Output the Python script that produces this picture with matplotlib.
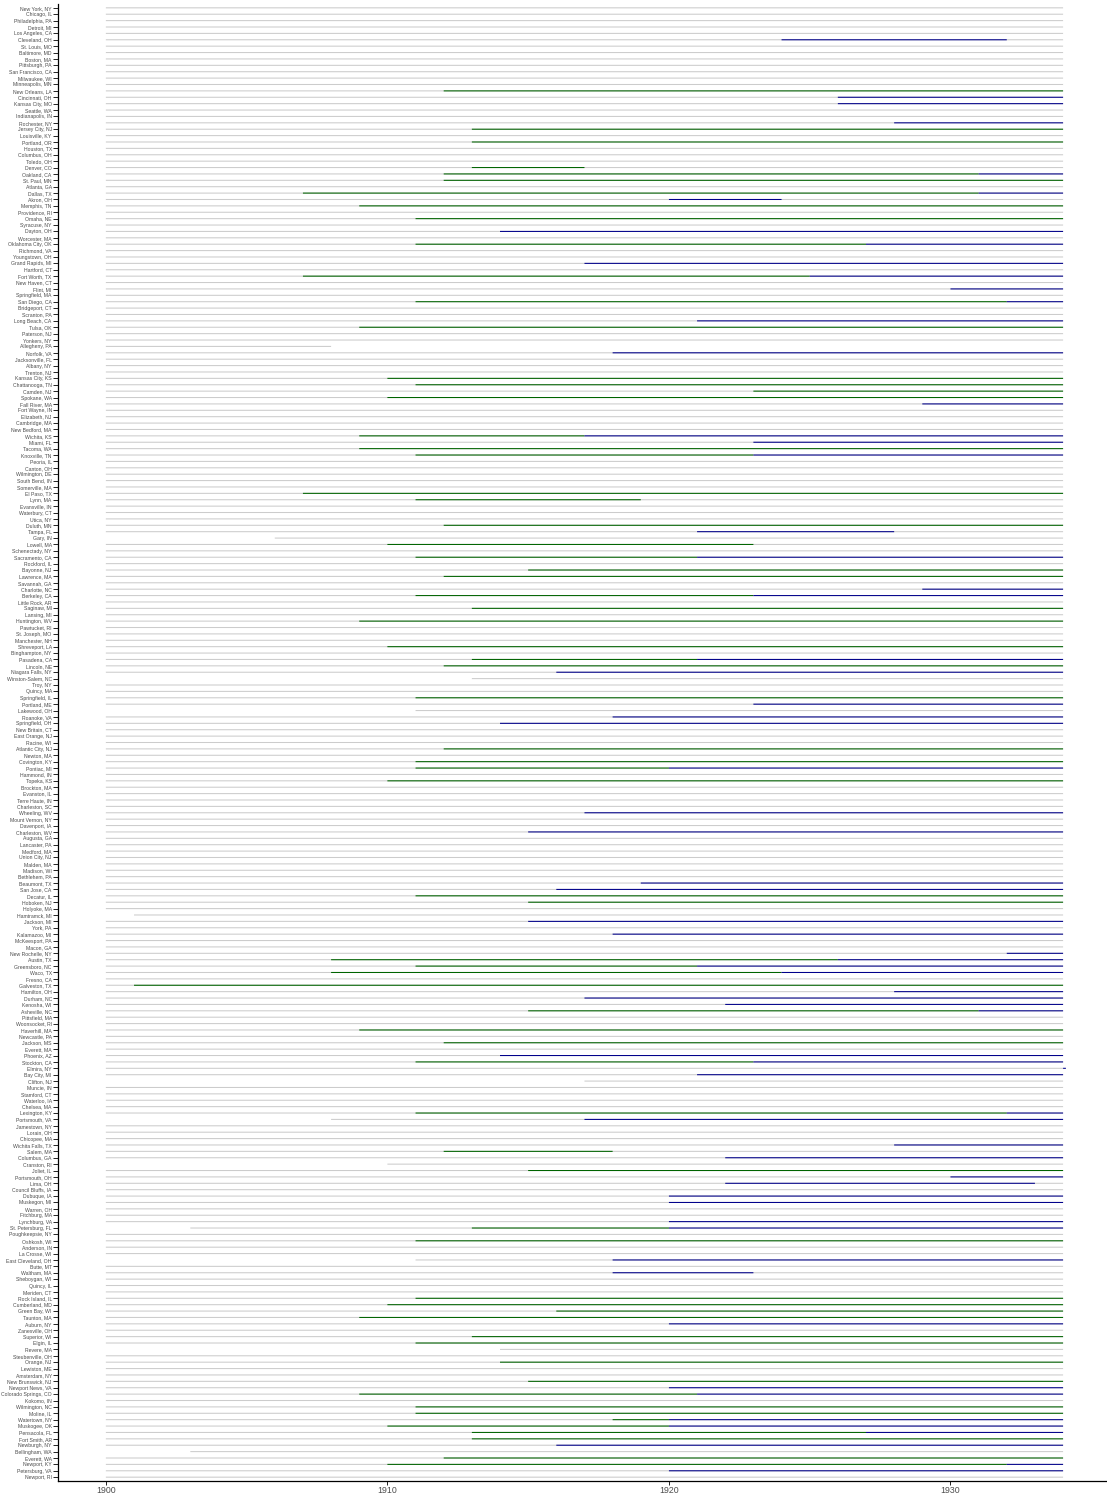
import matplotlib
matplotlib.use("Agg")
import matplotlib.pyplot as plt

plt.rcParams['font.family'] = ['Liberation Sans', 'DejaVu Sans']

# cities, top to bottom
cities = [
    "New York, NY", "Chicago, IL", "Philadelphia, PA", "Detroit, MI", "Los Angeles, CA",
    "Cleveland, OH", "St. Louis, MO", "Baltimore, MD", "Boston, MA", "Pittsburgh, PA",
    "San Francisco, CA", "Milwaukee, WI", "Minneapolis, MN", "New Orleans, LA", "Cincinnati, OH",
    "Kansas City, MO", "Seattle, WA", "Indianapolis, IN", "Rochester, NY", "Jersey City, NJ",
    "Louisville, KY", "Portland, OR", "Houston, TX", "Columbus, OH", "Toledo, OH",
    "Denver, CO", "Oakland, CA", "St. Paul, MN", "Atlanta, GA", "Dallas, TX",
    "Akron, OH", "Memphis, TN", "Providence, RI", "Omaha, NE", "Syracuse, NY",
    "Dayton, OH", "Worcester, MA", "Oklahoma City, OK", "Richmond, VA", "Youngstown, OH",
    "Grand Rapids, MI", "Hartford, CT", "Fort Worth, TX", "New Haven, CT", "Flint, MI",
    "Springfield, MA", "San Diego, CA", "Bridgeport, CT", "Scranton, PA", "Long Beach, CA",
    "Tulsa, OK", "Paterson, NJ", "Yonkers, NY", "Allegheny, PA", "Norfolk, VA",
    "Jacksonville, FL", "Albany, NY", "Trenton, NJ", "Kansas City, KS", "Chattanooga, TN",
    "Camden, NJ", "Spokane, WA", "Fall River, MA", "Fort Wayne, IN", "Elizabeth, NJ",
    "Cambridge, MA", "New Bedford, MA", "Wichita, KS", "Miami, FL", "Tacoma, WA",
    "Knoxville, TN", "Peoria, IL", "Canton, OH", "Wilmington, DE", "South Bend, IN",
    "Somerville, MA", "El Paso, TX", "Lynn, MA", "Evansville, IN", "Waterbury, CT",
    "Utica, NY", "Duluth, MN", "Tampa, FL", "Gary, IN", "Lowell, MA",
    "Schenectady, NY", "Sacramento, CA", "Rockford, IL", "Bayonne, NJ", "Lawrence, MA",
    "Savannah, GA", "Charlotte, NC", "Berkeley, CA", "Little Rock, AR", "Saginaw, MI",
    "Lansing, MI", "Huntington, WV", "Pawtucket, RI", "St. Joseph, MO", "Manchester, NH",
    "Shreveport, LA", "Binghampton, NY", "Pasadena, CA", "Lincoln, NE", "Niagara Falls, NY",
    "Winston-Salem, NC", "Troy, NY", "Quincy, MA", "Springfield, IL", "Portland, ME",
    "Lakewood, OH", "Roanoke, VA", "Springfield, OH", "New Britain, CT", "East Orange, NJ",
    "Racine, WI", "Atlantic City, NJ", "Newton, MA", "Covington, KY", "Pontiac, MI",
    "Hammond, IN", "Topeka, KS", "Brockton, MA", "Evanston, IL", "Terre Haute, IN",
    "Charleston, SC", "Wheeling, WV", "Mount Vernon, NY", "Davenport, IA", "Charleston, WV",
    "Augusta, GA", "Lancaster, PA", "Medford, MA", "Union City, NJ", "Malden, MA",
    "Madison, WI", "Bethlehem, PA", "Beaumont, TX", "San Jose, CA", "Decatur, IL",
    "Hoboken, NJ", "Holyoke, MA", "Hamtramck, MI", "Jackson, MI", "York, PA",
    "Kalamazoo, MI", "McKeesport, PA", "Macon, GA", "New Rochelle, NY", "Austin, TX",
    "Greensboro, NC", "Waco, TX", "Fresno, CA", "Galveston, TX", "Hamilton, OH",
    "Durham, NC", "Kenosha, WI", "Asheville, NC", "Pittsfield, MA", "Woonsocket, RI",
    "Haverhill, MA", "Newcastle, PA", "Jackson, MS", "Everett, MA", "Phoenix, AZ",
    "Stockton, CA", "Elmira, NY", "Bay City, MI", "Clifton, NJ", "Muncie, IN",
    "Stamford, CT", "Waterloo, IA", "Chelsea, MA", "Lexington, KY", "Portsmouth, VA",
    "Jamestown, NY", "Lorain, OH", "Chicopee, MA", "Wichita Falls, TX", "Salem, MA",
    "Columbus, GA", "Cranston, RI", "Joliet, IL", "Portsmouth, OH", "Lima, OH",
    "Council Bluffs, IA", "Dubuque, IA", "Muskegon, MI", "Warren, OH", "Fitchburg, MA",
    "Lynchburg, VA", "St. Petersburg, FL", "Poughkeepsie, NY", "Oshkosh, WI", "Anderson, IN",
    "La Crosse, WI", "East Cleveland, OH", "Butte, MT", "Waltham, MA", "Sheboygan, WI",
    "Quincy, IL", "Meriden, CT", "Rock Island, IL", "Cumberland, MD", "Green Bay, WI",
    "Taunton, MA", "Auburn, NY", "Zanesville, OH", "Superior, WI", "Elgin, IL",
    "Revere, MA", "Steubenville, OH", "Orange, NJ", "Lewiston, ME", "Amsterdam, NY",
    "New Brunswick, NJ", "Newport News, VA", "Colorado Springs, CO", "Kokomo, IN", "Wilmington, NC",
    "Moline, IL", "Watertown, NY", "Muskogee, OK", "Pensacola, FL", "Fort Smith, AR",
    "Newburgh, NY", "Bellingham, WA", "Everett, WA", "Newport, KY", "Petersburg, VA",
    "Newport, RI",
]

# period covered for each city (default 1900-1934)
first_year = 1900
last_year = 1934
span_exceptions = {
    "Allegheny, PA": (1900, 1908),
    "Gary, IN": (1906, 1934),
    "Winston-Salem, NC": (1913, 1934),
    "Lakewood, OH": (1911, 1934),
    "Hamtramck, MI": (1901, 1934),
    "Clifton, NJ": (1917, 1934),
    "Portsmouth, VA": (1908, 1934),
    "Cranston, RI": (1910, 1934),
    "St. Petersburg, FL": (1903, 1934),
    "East Cleveland, OH": (1911, 1934),
    "Revere, MA": (1914, 1934),
    "Bellingham, WA": (1903, 1934),
}

# (1-based city position, start, end)
green_segments = [
    (14, 1912, 1934), (20, 1913, 1934), (22, 1913, 1934), (26, 1913, 1917),
    (27, 1912, 1931), (28, 1912, 1934), (30, 1907, 1931), (32, 1909, 1934),
    (34, 1911, 1934), (38, 1911, 1927), (43, 1907, 1925), (47, 1911, 1932),
    (51, 1909, 1934), (59, 1910, 1934), (60, 1911, 1934), (61, 1923, 1934),
    (62, 1910, 1934), (68, 1909, 1917), (70, 1909, 1934), (71, 1911, 1923),
    (77, 1907, 1934), (78, 1911, 1919), (82, 1912, 1934), (85, 1910, 1923),
    (87, 1911, 1921), (89, 1915, 1934), (90, 1912, 1934), (93, 1911, 1923),
    (95, 1913, 1934), (97, 1909, 1934), (101, 1910, 1934), (103, 1913, 1921),
    (104, 1912, 1934), (109, 1911, 1934), (117, 1912, 1934), (119, 1911, 1934),
    (120, 1911, 1920), (122, 1910, 1934), (140, 1911, 1934), (141, 1915, 1934),
    (150, 1908, 1926), (151, 1911, 1921), (152, 1908, 1924), (154, 1901, 1934),
    (158, 1915, 1931), (161, 1909, 1934), (163, 1912, 1934), (166, 1911, 1923),
    (174, 1911, 1932), (180, 1912, 1918), (183, 1915, 1934), (192, 1913, 1920),
    (194, 1911, 1934), (203, 1911, 1934), (204, 1910, 1934), (205, 1916, 1934),
    (206, 1909, 1934), (209, 1913, 1934), (210, 1911, 1934), (213, 1914, 1934),
    (216, 1915, 1934), (218, 1909, 1921), (220, 1911, 1934), (221, 1911, 1934),
    (222, 1918, 1920), (223, 1910, 1920), (224, 1913, 1927), (225, 1913, 1934),
    (228, 1912, 1934), (229, 1910, 1932),
]

blue_segments = [
    (6, 1924, 1932), (15, 1926, 1934), (16, 1926, 1934), (19, 1928, 1934),
    (27, 1931, 1934), (30, 1931, 1934), (31, 1920, 1924), (36, 1914, 1934),
    (38, 1927, 1934), (41, 1917, 1934), (43, 1925, 1934), (45, 1930, 1934),
    (47, 1932, 1934), (50, 1921, 1934), (55, 1918, 1934), (63, 1929, 1934),
    (68, 1917, 1934), (69, 1923, 1934), (71, 1923, 1934), (83, 1921, 1928),
    (87, 1921, 1934), (92, 1929, 1934), (93, 1923, 1934), (103, 1921, 1934),
    (105, 1916, 1934), (110, 1923, 1934), (112, 1918, 1934), (113, 1914, 1934),
    (120, 1920, 1934), (127, 1917, 1934), (130, 1915, 1934), (138, 1919, 1934),
    (139, 1916, 1934), (144, 1915, 1934), (146, 1918, 1934), (149, 1932, 1934),
    (150, 1926, 1934), (151, 1921, 1934), (152, 1924, 1934), (155, 1928, 1934),
    (156, 1917, 1934), (157, 1922, 1934), (158, 1931, 1934), (165, 1914, 1934),
    (166, 1923, 1934), (167, 1934, 1934.1), (168, 1921, 1934), (174, 1932, 1934),
    (175, 1917, 1934), (179, 1928, 1934), (181, 1922, 1934), (184, 1930, 1934),
    (185, 1922, 1933), (187, 1920, 1934), (188, 1920, 1934), (191, 1920, 1934),
    (192, 1920, 1934), (197, 1918, 1934), (199, 1918, 1923), (207, 1920, 1934),
    (217, 1920, 1934), (218, 1921, 1934), (222, 1920, 1934), (223, 1920, 1934),
    (224, 1927, 1934), (226, 1916, 1934), (229, 1932, 1934), (230, 1920, 1934),
]

fig = plt.figure(figsize=(11.07, 14.95), dpi=100)
ax = fig.add_axes([58 / 1107, 14 / 1495, 1049 / 1107, 1477 / 1495])

rows = list(range(len(cities)))
starts = [span_exceptions.get(c, (first_year, last_year))[0] for c in cities]
ends = [span_exceptions.get(c, (first_year, last_year))[1] for c in cities]
gray = ax.hlines(rows, starts, ends, color='#cccccc', linewidth=0.75)
gray.set_snap(False)

green = ax.hlines([s[0] - 1 for s in green_segments], [s[1] for s in green_segments],
                  [s[2] for s in green_segments], color='darkgreen', linewidth=0.75)
green.set_snap(False)
blue = ax.hlines([s[0] - 1 for s in blue_segments], [s[1] for s in blue_segments],
                 [s[2] for s in blue_segments], color='darkblue', linewidth=0.75)
blue.set_snap(False)

ax.set_yticks(rows)
ax.set_yticklabels(cities, fontsize=3.7, color='#4d4d4d')
ax.set_xticks([1900, 1910, 1920, 1930])
ax.tick_params(axis='x', labelsize=6.3, labelcolor='#4d4d4d', length=3, width=0.6, pad=0.5)
ax.tick_params(axis='y', length=3.5, width=0.6, pad=1)
ax.set_xlim(1898.3, 1935.56)
ax.set_ylim(len(cities) - 0.4, -0.6)

for side in ['top', 'right']:
    ax.spines[side].set_visible(False)
for side in ['left', 'bottom']:
    ax.spines[side].set_linewidth(0.9)

fig.savefig('out.png', dpi=100)
